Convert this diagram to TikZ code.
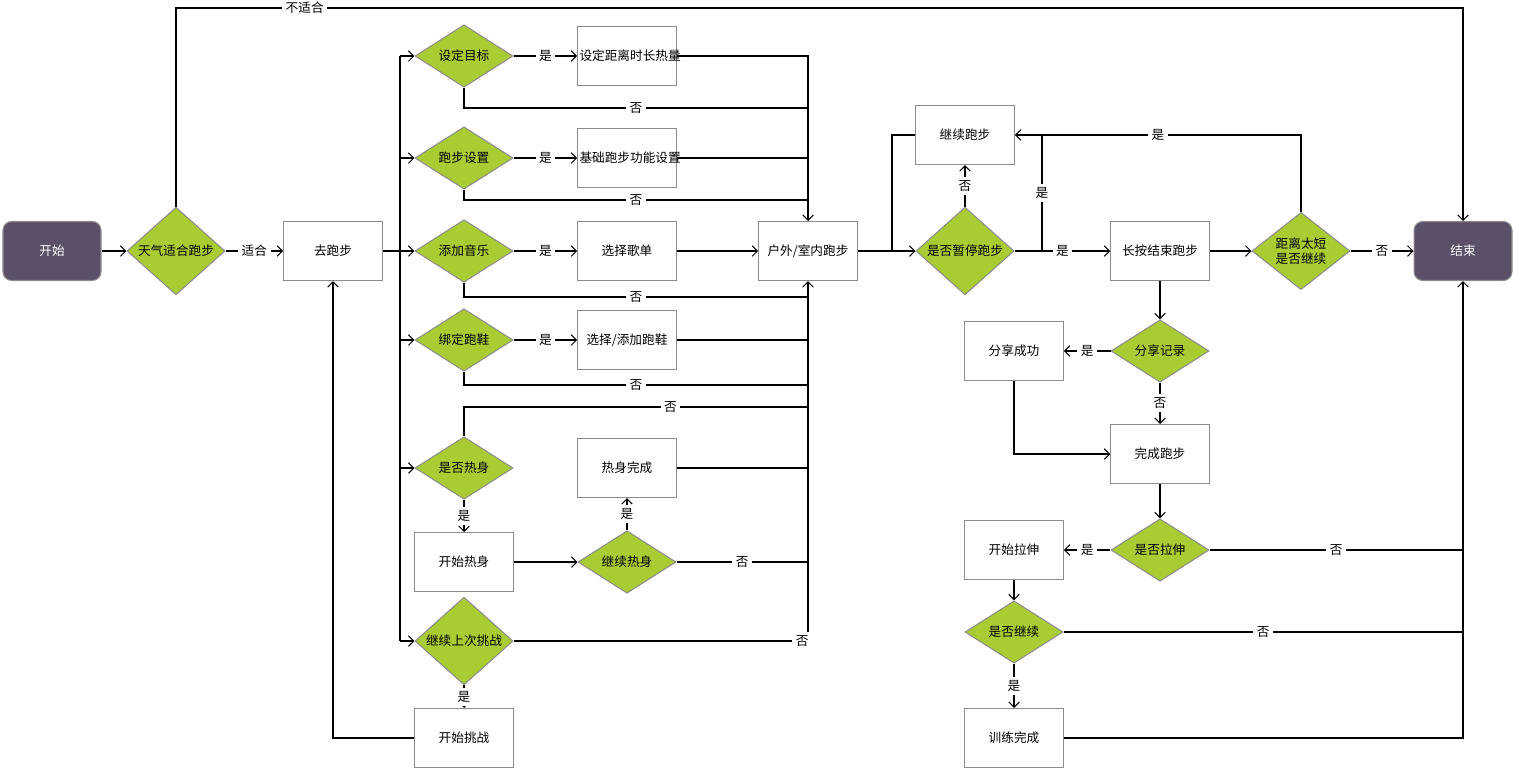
\documentclass[tikz,border=0pt]{standalone}
\usepackage{fontspec}
\setmainfont{Noto Sans CJK SC}
\usetikzlibrary{shapes.geometric,arrows.meta}
\definecolor{dg}{HTML}{5C5068}
\definecolor{yg}{HTML}{A9CC33}
\definecolor{bd}{HTML}{8C8C8C}
\begin{document}
\begin{tikzpicture}[x=0.02cm,y=-0.02cm,font=\fontsize{7.2}{8.5}\selectfont,
 box/.style={draw=bd,fill=white,minimum width=1.96cm,minimum height=1.18cm,inner sep=1pt,align=center,text width=1.9cm},
 term/.style={draw=bd,fill=dg,text=white,rounded corners=5pt,minimum width=1.96cm,minimum height=1.18cm},
 dia/.style={diamond,draw=bd,fill=yg,minimum width=1.96cm,minimum height=1.18cm,inner sep=0pt,align=center},
 lab/.style={fill=white,inner sep=2pt},
 ar/.style={-{Straight Barb[length=3pt,width=6pt]}},
 line width=0.6pt]
\useasboundingbox (0,0) rectangle (1513,768);
\node[term] (start) at (52,251) {开始};
\node[dia] (weather) at (176,251) {天气适合跑步};
\node[box] (go) at (333,251) {去跑步};
\node[dia] (d1) at (464,56) {设定目标};
\node[dia] (d2) at (464,158) {跑步设置};
\node[dia] (d3) at (464,251) {添加音乐};
\node[dia] (d4) at (464,340) {绑定跑鞋};
\node[dia] (d5) at (464,468) {是否热身};
\node[dia] (d6) at (464,641) {继续上次挑战};
\node[box] (r1) at (627,56) {设定距离时长热量};
\node[box] (r2) at (627,158) {基础跑步功能设置};
\node[box] (r3) at (627,251) {选择歌单};
\node[box] (r4) at (627,340) {选择/添加跑鞋};
\node[box] (r5) at (627,468) {热身完成};
\node[box] (wu) at (464,562) {开始热身};
\node[dia] (cw) at (627,562) {继续热身};
\node[box] (ch) at (464,738) {开始挑战};
\node[box] (run) at (808,251) {户外/室内跑步};
\node[dia] (pause) at (965,251) {是否暂停跑步};
\node[box] (cont) at (965,135) {继续跑步};
\node[box] (endrun) at (1160,251) {长按结束跑步};
\node[dia] (short) at (1301,251) {距离太短\\是否继续};
\node[term] (end) at (1463,251) {结束};
\node[dia] (share) at (1160,351) {分享记录};
\node[box] (shok) at (1014,351) {分享成功};
\node[box] (done) at (1160,454) {完成跑步};
\node[dia] (str) at (1160,550) {是否拉伸};
\node[box] (sstr) at (1014,550) {开始拉伸};
\node[dia] (goon) at (1014,632) {是否继续};
\node[box] (fin) at (1014,738) {训练完成};
% left part
\draw[ar] (start) -- (weather);
\draw[ar] (weather) -- node[lab]{适合} (go);
\draw[ar] (weather.north) |- (1463,8) node[lab,pos=0.55]{不适合} -- (end.north);
\draw[ar] (go) -- (d3);
\draw (400,251) -- (400,56) (400,251) -- (400,641);
\foreach \d in {d1,d2,d4,d5,d6} \draw[ar] (400,0 |- \d) -- (\d.west);
\draw[ar] (d1) -- node[lab]{是} (r1);
\draw[ar] (d2) -- node[lab]{是} (r2);
\draw[ar] (d3) -- node[lab]{是} (r3);
\draw[ar] (d4) -- node[lab]{是} (r4);
\draw[ar] (r1.east) -| (run.north);
\draw (r2.east) -- (808,158);
\draw (d1.south) |- (808,108) node[lab,pos=0.75]{否};
\draw (d2.south) |- (808,200) node[lab,pos=0.75]{否};
\draw[ar] (r3) -- (run);
\draw[ar] (d3.south) |- (808,297) node[lab,pos=0.75]{否} -- (run.south);
\draw (r4.east) -- (808,340);
\draw (d4.south) |- (808,385) node[lab,pos=0.75]{否};
\draw (d5.north) |- (808,407) node[lab,pos=0.8]{否};
\draw (r5.east) -- (808,468);
\draw[ar] (d5.south) -- node[lab]{是} (wu.north);
\draw[ar] (wu) -- (cw);
\draw[ar] (cw.north) -- node[lab]{是} (r5.south);
\draw (cw.east) -- node[lab,pos=0.5]{否} (808,562);
\draw (d6.east) -| node[lab,pos=0.49]{否} (808,297);
\draw[ar] (d6.south) -- node[lab]{是} (ch.north);
\draw[ar] (ch.west) -| (go.south);
% middle
\draw[ar] (run) -- (pause);
\draw (cont.west) -| (892,251);
\draw[ar] (pause.north) -- node[lab]{否} (cont.south);
\draw[ar] (pause) -- node[lab,pos=0.5]{是} (endrun);
\draw (1042,251) -- node[lab]{是} (1042,135);
\draw[ar] (short.north) |- node[lab,pos=0.75]{是} (cont.east);
\draw[ar] (endrun) -- (short);
\draw[ar] (short) -- node[lab]{否} (end);
\draw[ar] (endrun.south) -- (share.north);
\draw[ar] (share) -- node[lab]{是} (shok);
\draw[ar] (share.south) -- node[lab]{否} (done.north);
\draw[ar] (shok.south) |- (done.west);
\draw[ar] (done.south) -- (str.north);
\draw[ar] (str) -- node[lab]{是} (sstr);
\draw (str.east) -- node[lab]{否} (1463,550);
\draw[ar] (sstr.south) -- (goon.north);
\draw (goon.east) -- node[lab]{否} (1463,632);
\draw[ar] (goon.south) -- node[lab]{是} (fin.north);
\draw[ar] (fin.east) -| (end.south);
\end{tikzpicture}
\end{document}
